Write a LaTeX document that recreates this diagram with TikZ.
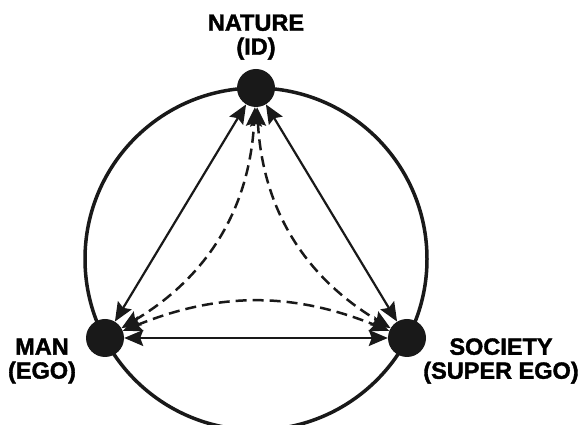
\documentclass[tikz,border=0pt]{standalone}
\usepackage{fontspec}
\setmainfont{Liberation Sans}[BoldFeatures={FakeBold=1.6}]
\usetikzlibrary{arrows.meta, positioning}

\begin{document}
\begin{tikzpicture}[
    x=1pt, y=1pt,
    dot/.style={circle, fill=black!90, minimum size=38pt, inner sep=0pt},
    tag/.style={align=center, inner sep=0pt, font=\bfseries\fontsize{23.5}{24}\selectfont},
    arrow/.style={line width=2.2pt, draw=black!90, {Stealth[length=19pt,width=16pt,inset=3pt]}-{Stealth[length=19pt,width=16pt,inset=3pt]}},
    link/.style={arrow, dash pattern=on 11pt off 6pt, line width=2.5pt}
]
\useasboundingbox (0,0) rectangle (581,425);

\coordinate (ctr) at (256,166);
\draw[line width=3.5pt, black!90] (ctr) circle (171);

\node[dot] (nature) at (256,337) {};
\node[dot] (man) at (105,87) {};
\node[dot] (society) at (407,87) {};

\node[tag, above=9pt of nature] (natlbl) {NATURE\\(ID)};
\node[tag] (manlbl) at (42,64) {MAN\\(EGO)};
\node[tag] (soclbl) at (501,64) {SOCIETY\\(SUPER EGO)};

\draw[arrow] (man) -- (nature);
\draw[arrow] (nature) -- (society);
\draw[arrow] (man) -- (society);

\draw[link] (man) to[bend right=28] (nature);
\draw[link] (nature) to[bend right=28] (society);
\draw[link] (man) to[bend left=22] (society);

\end{tikzpicture}
\end{document}
